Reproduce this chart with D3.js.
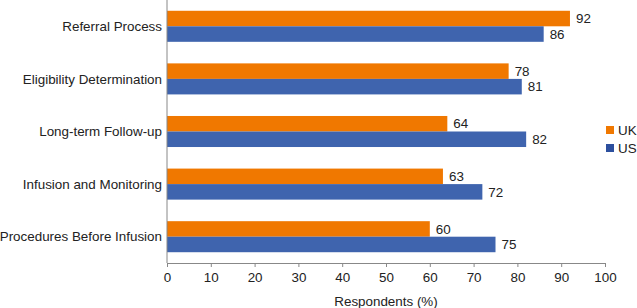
<!DOCTYPE html>
<html>
<head>
<meta charset="utf-8">
<script src="https://cdn.jsdelivr.net/npm/d3@7"></script>
<style>
  body { margin: 0; background: #fff; }
  text { font-family: "Liberation Sans", Arial, sans-serif; fill: #222; }
</style>
</head>
<body>
<div id="root"></div>
<script>
const categories = ["Referral Process", "Eligibility Determination", "Long-term Follow-up",
                    "Infusion and Monitoring", "Procedures Before Infusion"];
const ukValues = [92, 78, 64, 63, 60];
const usValues = [86, 81, 82, 72, 75];
const xTicks = [0, 10, 20, 30, 40, 50, 60, 70, 80, 90, 100];

const margin = { top: 0, right: 32, bottom: 45, left: 167 };
const outerWidth = 637;
const outerHeight = 308;
const width = outerWidth - margin.left - margin.right;
const height = outerHeight - margin.top - margin.bottom;
const fontSize = "13.4px";

const ukColor = "#f07800";
const usColor = "#3f64ae";

let svg = d3.select("#root")
            .append("svg")
            .attr("width", outerWidth)
            .attr("height", outerHeight);

let chart = svg.append("g")
               .attr("transform", `translate(${margin.left}, ${margin.top})`);

let scaleX = d3.scaleLinear().domain([0, 100]).range([0, 438]);
let scaleY = d3.scaleBand().domain(categories).range([0, height])
               .paddingInner(0.41).paddingOuter(0.205);
let scaleSeries = d3.scaleBand().domain(["UK", "US"]).range([0, scaleY.bandwidth()]);

let rows = categories.map((c, i) => ({ cat: c, UK: ukValues[i], US: usValues[i] }));

let group = chart.selectAll(".row")
                 .data(rows)
                 .enter().append("g")
                 .attr("class", "row")
                 .attr("transform", d => `translate(0, ${scaleY(d.cat)})`);

["UK", "US"].forEach(s => {
    group.append("rect")
         .attr("x", 0)
         .attr("y", scaleSeries(s))
         .attr("width", d => scaleX(d[s]))
         .attr("height", scaleSeries.bandwidth())
         .attr("fill", s == "UK" ? ukColor : usColor);
    group.append("text")
         .attr("x", d => scaleX(d[s]) + 6)
         .attr("y", scaleSeries(s) + scaleSeries.bandwidth() / 2)
         .attr("dy", "0.35em")
         .style("font-size", fontSize)
         .text(d => d[s]);
});

// category labels
chart.selectAll(".cat")
     .data(categories)
     .enter().append("text")
     .attr("class", "cat")
     .attr("x", -5)
     .attr("y", d => scaleY(d) + scaleY.bandwidth() / 2)
     .attr("dy", "0.35em")
     .style("text-anchor", "end")
     .style("font-size", fontSize)
     .text(d => d);

// y axis line
chart.append("line")
     .attr("x1", 0).attr("x2", 0)
     .attr("y1", 0).attr("y2", height)
     .attr("stroke", "#888");

let xAxis = d3.axisBottom(scaleX).tickValues(xTicks).tickSize(4).tickSizeOuter(4);
let gx = chart.append("g")
              .attr("transform", `translate(0, ${height})`)
              .call(xAxis);
gx.select(".domain").attr("stroke", "#888");
gx.selectAll(".tick line").attr("stroke", "#888");
gx.selectAll(".tick text")
  .attr("y", 9)
  .style("font-size", fontSize)
  .style("font-family", "'Liberation Sans', Arial, sans-serif")
  .attr("fill", "#222");

chart.append("text")
     .attr("x", scaleX(50))
     .attr("y", 301)
     .attr("dy", "0.35em")
     .style("text-anchor", "middle")
     .style("font-size", fontSize)
     .text("Respondents (%)");

// legend
let legend = svg.append("g").attr("transform", "translate(606, 126)");
[["UK", ukColor], ["US", "#2c4f9e"]].forEach((item, i) => {
    legend.append("rect")
          .attr("x", 0).attr("y", i * 18)
          .attr("width", 8).attr("height", 8)
          .attr("fill", item[1]);
    legend.append("text")
          .attr("x", 12).attr("y", i * 18 + 4)
          .attr("dy", "0.35em")
          .style("font-size", fontSize)
          .text(item[0]);
});
</script>
</body>
</html>
